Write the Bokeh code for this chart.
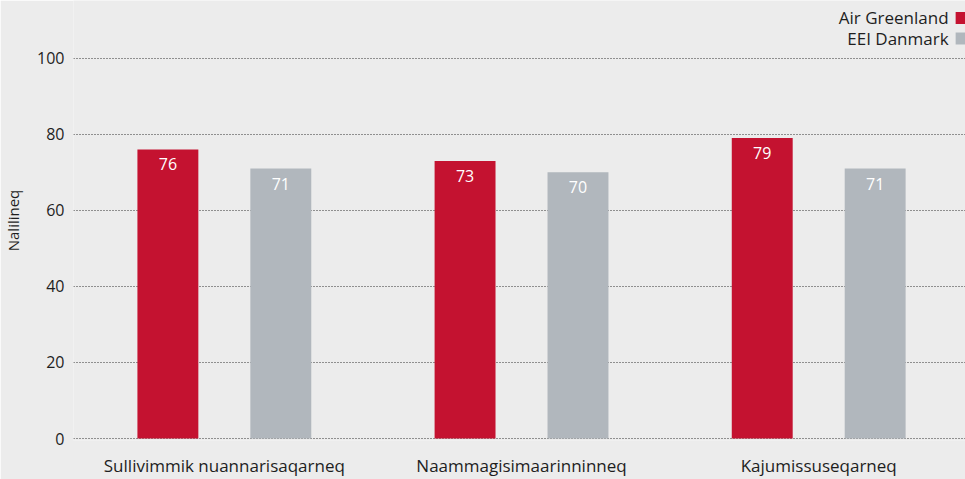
from bokeh.plotting import figure
from bokeh.models import Range1d, FixedTicker, ColumnDataSource
from bokeh.core.properties import value
from bokeh.embed import file_html
from bokeh.resources import INLINE

categories = ["Sullivimmik nuannarisaqarneq", "Naammagisimaarinninneq", "Kajumissuseqarneq"]
series_names = ["Air Greenland", "EEI Danmark"]
air_greenland = [76, 73, 79]
eei_danmark = [71, 70, 71]
y_ticks = [0, 20, 40, 60, 80, 100]

BG = "#ececec"
RED = "#c41230"
GRAY = "#b1b7bd"
TXT = "#1e1e1e"
FONT = "Open Sans"

W, H = 965, 479
p = figure(width=W, height=H, output_backend="svg", toolbar_location=None,
           x_range=Range1d(-0.5076, 2.494), y_range=Range1d(-0.52, 115.18),
           min_border_left=72, min_border_right=0, min_border_top=0, min_border_bottom=37)
p.background_fill_color = BG
p.border_fill_color = BG
p.outline_line_color = None

xs = list(range(len(categories)))
off = 0.19
bw = 0.205
src = ColumnDataSource(dict(
    x_r=[x - off for x in xs], x_g=[x + off for x in xs],
    ag=air_greenland, eei=eei_danmark,
    ag_t=[str(v) for v in air_greenland], eei_t=[str(v) for v in eei_danmark]))

p.vbar(x="x_r", top="ag", bottom=0, width=bw, color=RED, line_color=None, source=src)
p.vbar(x="x_g", top="eei", bottom=0, width=bw, color=GRAY, line_color=None, source=src)
for xc, yc, tc in (("x_r", "ag", "ag_t"), ("x_g", "eei", "eei_t")):
    p.text(x=xc, y=yc, text=tc, source=src, text_align="center", text_baseline="middle",
           y_offset=15, text_color="white", text_font=value(FONT), text_font_size="16px")

# legend (text left of swatch)
lx_text = 2.437
lx_sq = 2.481
ly = [110.6, 105.2]
p.text(x=[lx_text] * 2, y=ly, text=series_names, text_align="right", text_baseline="middle",
       text_color=TXT, text_font=value(FONT), text_font_size="17px")
p.scatter(x=[lx_sq] * 2, y=ly, marker="square", size=12, color=[RED, GRAY], line_color=None)

# axes
p.xaxis.ticker = FixedTicker(ticks=xs)
p.xaxis.major_label_overrides = {i: c for i, c in enumerate(categories)}
p.xaxis.axis_line_color = None
p.xaxis.major_tick_line_color = None
p.xaxis.minor_tick_line_color = None
p.xaxis.major_tick_out = 0
p.xaxis.major_label_standoff = 13
p.xaxis.major_label_text_font = FONT
p.xaxis.major_label_text_font_size = "17px"
p.xaxis.major_label_text_color = TXT

p.yaxis.ticker = FixedTicker(ticks=y_ticks)
p.yaxis.axis_line_color = None
p.yaxis.major_tick_line_color = None
p.yaxis.minor_tick_line_color = None
p.yaxis.major_tick_out = 0
p.yaxis.major_label_standoff = 9
p.yaxis.major_label_text_font = FONT
p.yaxis.major_label_text_font_size = "16px"
p.yaxis.major_label_text_color = TXT
p.yaxis.axis_label = "Nalilineq"
p.yaxis.axis_label_standoff = 11
p.yaxis.axis_label_text_font = FONT
p.yaxis.axis_label_text_font_size = "15px"
p.yaxis.axis_label_text_font_style = "normal"
p.yaxis.axis_label_text_color = TXT

p.xgrid.grid_line_color = None
p.ygrid.grid_line_color = "#333333"
p.ygrid.grid_line_dash = "1 2"
p.ygrid.grid_line_width = 1

html = file_html(p, INLINE)
html = html.replace("<body>", '<body style="background:#ececec">', 1)
open("out.html", "w").write(html)
